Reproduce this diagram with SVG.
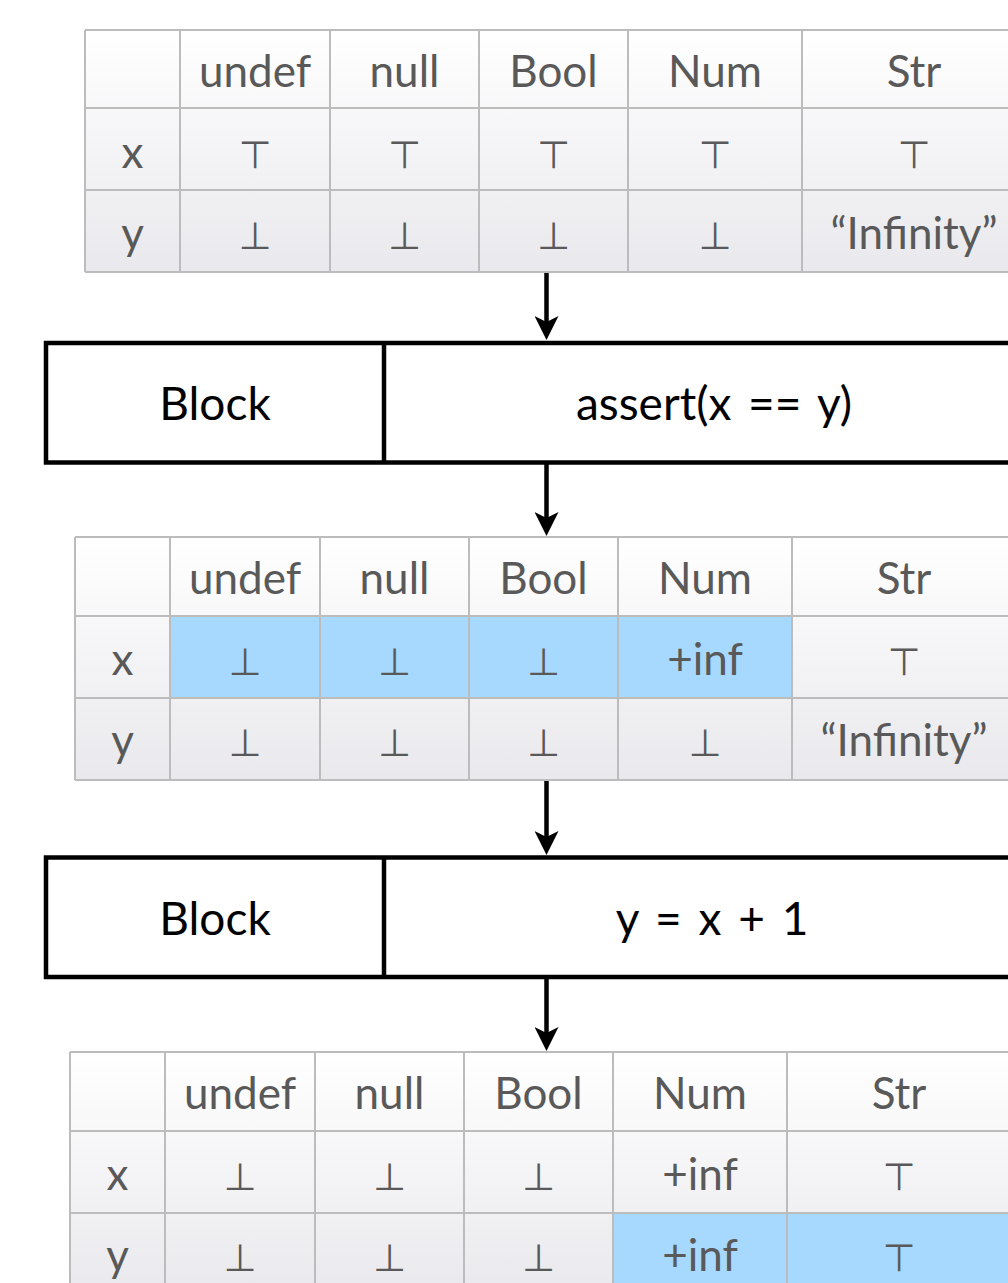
<svg xmlns="http://www.w3.org/2000/svg" width="1008" height="1283" viewBox="0 0 1008 1283">
  <defs>
    <linearGradient id="tableBg" x1="0" y1="0" x2="0" y2="1">
      <stop offset="0" stop-color="#ffffff"/>
      <stop offset="1" stop-color="#e9e9ed"/>
    </linearGradient>
    <marker id="arrowHead" viewBox="0 0 24 24" markerWidth="24" markerHeight="24" refX="14" refY="12" orient="auto" markerUnits="userSpaceOnUse">
      <path d="M0,0 L24,12 L0,24 L6,12 Z" fill="#000"/>
    </marker>
    <style>
      .bg { fill: url(#tableBg); }
      .hl { fill: #a7d8fd; }
      .grid { stroke: #bcbcbc; stroke-width: 2; fill: none; }
      .t { font-family: Lato, "Open Sans", "Liberation Sans", sans-serif; font-size: 44px; fill: #595959; text-anchor: middle; }
      .sym { font-family: "DejaVu Sans", sans-serif; font-size: 38px; fill: #595959; text-anchor: middle; }
      .box { fill: #fff; stroke: #000; stroke-width: 4.5; }
      .div { stroke: #000; stroke-width: 4.5; }
      .bt { font-family: Lato, "Open Sans", "Liberation Sans", sans-serif; font-size: 46px; fill: #000; text-anchor: middle; word-spacing: 5px; }
      .conn { stroke: #000; stroke-width: 4.5; fill: none; }
    </style>
  </defs>

  <!-- state before the assert -->
  <g id="table-in">
    <rect class="bg" x="85" y="30" width="941" height="242"/>
    <path class="grid" d="M85,30 H1026 M85,108 H1026 M85,190 H1026 M85,272 H1026 M85,30 V272 M180,30 V272 M330,30 V272 M479,30 V272 M628,30 V272 M802,30 V272"/>
    <text class="t" x="255" y="87">undef</text>
    <text class="t" x="404.5" y="87">null</text>
    <text class="t" x="553.5" y="87">Bool</text>
    <text class="t" x="715" y="87">Num</text>
    <text class="t" x="914" y="87">Str</text>
    <text class="t" x="132.5" y="168">x</text>
    <text class="sym" x="255" y="168">⊤</text>
    <text class="sym" x="404.5" y="168">⊤</text>
    <text class="sym" x="553.5" y="168">⊤</text>
    <text class="sym" x="715" y="168">⊤</text>
    <text class="sym" x="914" y="168">⊤</text>
    <text class="t" x="132.5" y="249">y</text>
    <text class="sym" x="255" y="249">⊥</text>
    <text class="sym" x="404.5" y="249">⊥</text>
    <text class="sym" x="553.5" y="249">⊥</text>
    <text class="sym" x="715" y="249">⊥</text>
    <text class="t" x="914" y="249">“Infinity”</text>
  </g>

  <g id="block-assert">
    <rect class="box" x="46" y="343" width="1010" height="119.5"/>
    <line class="div" x1="384" y1="343" x2="384" y2="462.5"/>
    <text class="bt" x="215" y="420">Block</text>
    <text class="bt" x="714" y="420">assert(x == y)</text>
  </g>

  <!-- state after the assert -->
  <g id="table-mid">
    <rect class="bg" x="75" y="537" width="951" height="243"/>
    <rect class="hl" x="170" y="616" width="622" height="82"/>
    <path class="grid" d="M75,537 H1026 M75,616 H1026 M75,698 H1026 M75,780 H1026 M75,537 V780 M170,537 V780 M320,537 V780 M469,537 V780 M618,537 V780 M792,537 V780"/>
    <text class="t" x="245" y="594">undef</text>
    <text class="t" x="394.5" y="594">null</text>
    <text class="t" x="543.5" y="594">Bool</text>
    <text class="t" x="705" y="594">Num</text>
    <text class="t" x="904" y="594">Str</text>
    <text class="t" x="122.5" y="675">x</text>
    <text class="sym" x="245" y="675">⊥</text>
    <text class="sym" x="394.5" y="675">⊥</text>
    <text class="sym" x="543.5" y="675">⊥</text>
    <text class="t" x="705" y="675">+inf</text>
    <text class="sym" x="904" y="675">⊤</text>
    <text class="t" x="122.5" y="756">y</text>
    <text class="sym" x="245" y="756">⊥</text>
    <text class="sym" x="394.5" y="756">⊥</text>
    <text class="sym" x="543.5" y="756">⊥</text>
    <text class="sym" x="705" y="756">⊥</text>
    <text class="t" x="904" y="756">“Infinity”</text>
  </g>

  <g id="block-assign">
    <rect class="box" x="46" y="857.5" width="1010" height="119.5"/>
    <line class="div" x1="384" y1="857.5" x2="384" y2="977"/>
    <text class="bt" x="215" y="934.5">Block</text>
    <text class="bt" x="712" y="934.5">y = x + 1</text>
  </g>

  <!-- state after the assignment -->
  <g id="table-out">
    <rect class="bg" x="70" y="1052" width="956" height="243"/>
    <rect class="hl" x="613" y="1213" width="413" height="82"/>
    <path class="grid" d="M70,1052 H1026 M70,1131 H1026 M70,1213 H1026 M70,1295 H1026 M70,1052 V1295 M165,1052 V1295 M315,1052 V1295 M464,1052 V1295 M613,1052 V1295 M787,1052 V1295"/>
    <text class="t" x="240" y="1109">undef</text>
    <text class="t" x="389.5" y="1109">null</text>
    <text class="t" x="538.5" y="1109">Bool</text>
    <text class="t" x="700" y="1109">Num</text>
    <text class="t" x="899" y="1109">Str</text>
    <text class="t" x="117.5" y="1190">x</text>
    <text class="sym" x="240" y="1190">⊥</text>
    <text class="sym" x="389.5" y="1190">⊥</text>
    <text class="sym" x="538.5" y="1190">⊥</text>
    <text class="t" x="700" y="1190">+inf</text>
    <text class="sym" x="899" y="1190">⊤</text>
    <text class="t" x="117.5" y="1271">y</text>
    <text class="sym" x="240" y="1271">⊥</text>
    <text class="sym" x="389.5" y="1271">⊥</text>
    <text class="sym" x="538.5" y="1271">⊥</text>
    <text class="t" x="700" y="1271">+inf</text>
    <text class="sym" x="899" y="1271">⊤</text>
  </g>

  <g id="connectors">
    <line class="conn" x1="546.5" y1="273" x2="546.5" y2="330" marker-end="url(#arrowHead)"/>
    <line class="conn" x1="546.5" y1="464" x2="546.5" y2="526" marker-end="url(#arrowHead)"/>
    <line class="conn" x1="546.5" y1="781" x2="546.5" y2="845" marker-end="url(#arrowHead)"/>
    <line class="conn" x1="546.5" y1="979" x2="546.5" y2="1041" marker-end="url(#arrowHead)"/>
  </g>
</svg>
